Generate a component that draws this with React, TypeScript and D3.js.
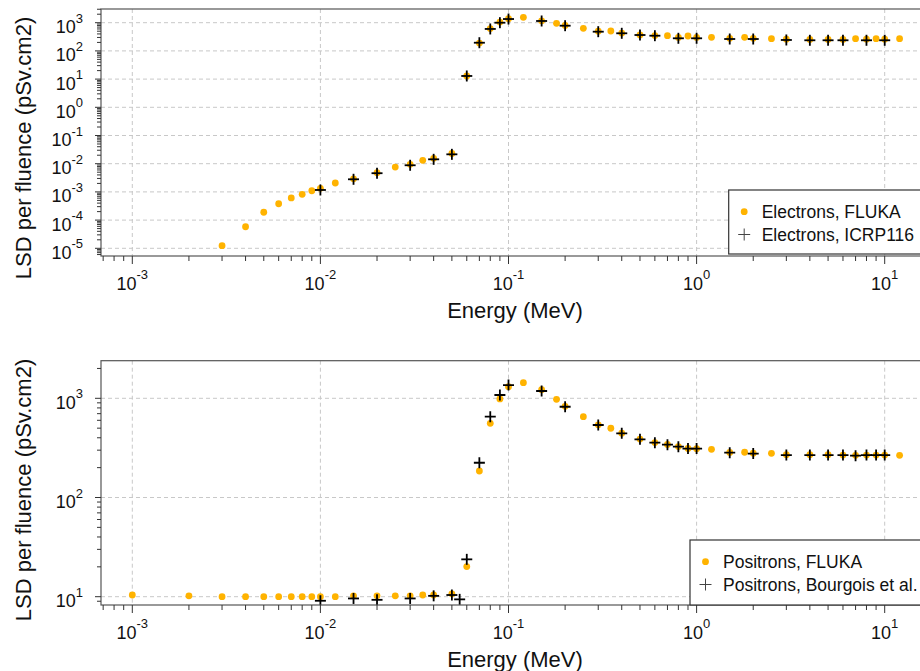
import React from 'react';
import * as d3 from 'd3';

// ---------- DATA ----------
const xTickExps = [-3, -2, -1, 0, 1];
const topYTickExps = [-5, -4, -3, -2, -1, 0, 1, 2, 3];
const bottomYTickExps = [1, 2, 3];

const electronFlukaE = [0.003, 0.004, 0.005, 0.006, 0.007, 0.008, 0.009, 0.01, 0.012, 0.015, 0.02, 0.025, 0.03, 0.035, 0.04, 0.05, 0.06, 0.07, 0.08, 0.09, 0.1, 0.12, 0.15, 0.18, 0.2, 0.25, 0.3, 0.35, 0.4, 0.5, 0.6, 0.7, 0.8, 0.9, 1, 1.2, 1.5, 1.8, 2, 2.5, 3, 4, 5, 6, 7, 8, 9, 10, 12];
const electronFlukaV = [1.24e-5, 5.8e-5, 1.9e-4, 3.8e-4, 6.1e-4, 8.2e-4, 1.1e-3, 1.34e-3, 2.07e-3, 2.9e-3, 4.8e-3, 7.6e-3, 9.5e-3, 0.0132, 0.0155, 0.023, 13, 190, 620, 1050, 1380, 1550, 1170, 950, 800, 630, 500, 508, 430, 370, 350, 346, 300, 337, 300, 303, 280, 303, 280, 271, 260, 255, 255, 255, 271, 260, 271, 260, 271];

const electronIcrpE = [0.01, 0.015, 0.02, 0.03, 0.04, 0.05, 0.06, 0.07, 0.08, 0.09, 0.1, 0.15, 0.2, 0.3, 0.4, 0.5, 0.6, 0.8, 1, 1.5, 2, 3, 4, 5, 6, 8, 10];
const electronIcrpV = [1.17e-3, 2.8e-3, 4.6e-3, 8.8e-3, 0.0143, 0.0215, 12.9, 195, 600, 1000, 1350, 1150, 783, 480, 421, 366, 346, 280, 280, 264, 264, 244, 238, 238, 238, 238, 238];

const positronFlukaE = [0.001, 0.002, 0.003, 0.004, 0.005, 0.006, 0.007, 0.008, 0.009, 0.01, 0.012, 0.015, 0.02, 0.025, 0.03, 0.035, 0.04, 0.05, 0.06, 0.07, 0.08, 0.09, 0.1, 0.12, 0.15, 0.18, 0.2, 0.25, 0.3, 0.35, 0.4, 0.5, 0.6, 0.7, 0.8, 0.9, 1, 1.2, 1.5, 1.8, 2, 2.5, 3, 4, 5, 6, 7, 8, 9, 10, 12];
const positronFlukaV = [10.4, 10.2, 10.0, 10.0, 10.0, 10.0, 10.0, 10.0, 10.0, 10.0, 10.0, 10.2, 10.2, 10.2, 10.2, 10.4, 10.4, 10.7, 20.1, 185, 560, 985, 1310, 1436, 1220, 977, 830, 653, 540, 499, 445, 388, 358, 342, 326, 312, 310, 306, 285, 286, 280, 279, 270, 270, 270, 268, 266, 268, 268, 268, 266];

const positronBourgoisE = [0.01, 0.015, 0.02, 0.03, 0.04, 0.05, 0.055, 0.06, 0.07, 0.08, 0.09, 0.1, 0.15, 0.2, 0.3, 0.4, 0.5, 0.6, 0.7, 0.8, 0.9, 1, 1.5, 2, 3, 4, 5, 6, 7, 8, 9, 10];
const positronBourgoisV = [9.1, 9.6, 9.3, 9.6, 10.2, 10.4, 9.4, 23.8, 224, 653, 1080, 1360, 1185, 822, 538, 444, 386, 357, 341, 325, 311, 311, 283, 277, 268, 268, 268, 268, 264, 268, 268, 268];

const legendTop = ['Electrons, FLUKA', 'Electrons, ICRP116'];
const legendBottom = ['Positrons, FLUKA', 'Positrons, Bourgois et al.'];
const yTitle = 'LSD per fluence (pSv.cm2)';
const xTitle = 'Energy (MeV)';

// ---------- STYLE ----------
const ORANGE = '#FFB300';
const FONT = 'Liberation Sans, Arial, sans-serif';
const TXT = '#111';

type PanelProps = {
  top: number; bottom: number;
  yDomain: [number, number]; yRange: [number, number];
  yExps: number[];
  dotE: number[]; dotV: number[];
  plusE: number[]; plusV: number[];
  legend: string[];
  legendBox: { x: number; y: number; h: number };
  yTitleY: number;
  xTitleY: number;
  id: string;
};

const LEFT = 101;
const RIGHT = 940;

function Panel(p: PanelProps) {
  const x = d3.scaleLog().domain([1e-3, 10]).range([132.3, 884.7]);
  const y = d3.scaleLog().domain(p.yDomain).range(p.yRange);

  const xTicks: { v: number; major: boolean }[] = [];
  for (let d = -4; d <= 1; d++) for (let m = 1; m <= 9; m++) {
    const v = m * Math.pow(10, d);
    const px = x(v);
    if (px >= LEFT && px <= 920) xTicks.push({ v, major: m === 1 });
  }
  const yTicks: { v: number; major: boolean }[] = [];
  for (let d = -7; d <= 4; d++) for (let m = 1; m <= 9; m++) {
    const v = m * Math.pow(10, d);
    const py = y(v);
    if (py >= p.top && py <= p.bottom) yTicks.push({ v, major: m === 1 });
  }

  return (
    <g>
      <defs>
        <clipPath id={'clip' + p.id}>
          <rect x={LEFT} y={p.top} width={RIGHT - LEFT} height={p.bottom - p.top} />
        </clipPath>
      </defs>
      {/* grid */}
      {xTickExps.map(e => (
        <line key={'gx' + e} x1={x(Math.pow(10, e))} x2={x(Math.pow(10, e))} y1={p.top} y2={p.bottom}
          stroke="#c8c8c8" strokeDasharray="4,3" strokeWidth={1} />
      ))}
      {p.yExps.map(e => (
        <line key={'gy' + e} x1={LEFT} x2={RIGHT} y1={y(Math.pow(10, e))} y2={y(Math.pow(10, e))}
          stroke="#c8c8c8" strokeDasharray="4,3" strokeWidth={1} />
      ))}
      {/* data */}
      <g clipPath={`url(#clip${p.id})`}>
        {p.dotE.map((e, i) => (
          <circle key={'d' + i} cx={x(e)} cy={y(p.dotV[i])} r={3.4} fill={ORANGE} />
        ))}
        {p.plusE.map((e, i) => {
          const cx = x(e), cy = y(p.plusV[i]);
          return (
            <g key={'p' + i} stroke="#000" strokeWidth={1.8}>
              <line x1={cx - 5.5} x2={cx + 5.5} y1={cy} y2={cy} />
              <line x1={cx} x2={cx} y1={cy - 5.5} y2={cy + 5.5} />
            </g>
          );
        })}
      </g>
      {/* box */}
      <rect x={LEFT} y={p.top} width={RIGHT - LEFT} height={p.bottom - p.top} fill="none" stroke="#555" strokeWidth={1.2} />
      {/* x ticks */}
      {xTicks.map((t, i) => (
        <line key={'xt' + i} x1={x(t.v)} x2={x(t.v)} y1={p.bottom} y2={p.bottom + (t.major ? 8 : 5)} stroke="#333" strokeWidth={1} />
      ))}
      {xTickExps.map(e => (
        <text key={'xl' + e} x={x(Math.pow(10, e))} y={p.bottom + 33.5} textAnchor="middle" fontFamily={FONT} fontSize={18} fill={TXT}>
          10<tspan dy={-10.5} fontSize={13}>{e}</tspan>
        </text>
      ))}
      {/* y ticks */}
      {yTicks.map((t, i) => (
        <line key={'yt' + i} x1={LEFT - (t.major ? 6 : 4)} x2={LEFT} y1={y(t.v)} y2={y(t.v)} stroke="#333" strokeWidth={1} />
      ))}
      {p.yExps.map(e => (
        <text key={'yl' + e} x={83} y={y(Math.pow(10, e)) + 10.5} textAnchor="end" fontFamily={FONT} fontSize={18} fill={TXT}>
          10<tspan dy={-10.5} fontSize={13}>{e}</tspan>
        </text>
      ))}
      {/* titles */}
      <text x={515} y={p.xTitleY} textAnchor="middle" fontFamily={FONT} fontSize={22} fill={TXT}>{xTitle}</text>
      <text transform={`translate(31,${p.yTitleY}) rotate(-90)`} textAnchor="middle" fontFamily={FONT} fontSize={22} fill={TXT}>{yTitle}</text>
      {/* legend */}
      <rect x={p.legendBox.x} y={p.legendBox.y} width={RIGHT - p.legendBox.x} height={p.legendBox.h} fill="#fff" stroke="#333" strokeWidth={1.2} />
      <circle cx={p.legendBox.x + 15.5} cy={p.legendBox.y + 21.7} r={3.4} fill={ORANGE} />
      <text x={p.legendBox.x + 33} y={p.legendBox.y + 21.7 + 6.2} fontFamily={FONT} fontSize={17.5} fill={TXT}>{p.legend[0]}</text>
      <g stroke="#444" strokeWidth={1}>
        <line x1={p.legendBox.x + 9.5} x2={p.legendBox.x + 21.5} y1={p.legendBox.y + 44.5} y2={p.legendBox.y + 44.5} />
        <line x1={p.legendBox.x + 15.5} x2={p.legendBox.x + 15.5} y1={p.legendBox.y + 38.5} y2={p.legendBox.y + 50.5} />
      </g>
      <text x={p.legendBox.x + 33} y={p.legendBox.y + 44.5 + 6.2} fontFamily={FONT} fontSize={17.5} fill={TXT}>{p.legend[1]}</text>
    </g>
  );
}

export default function App() {
  return (
    <svg width={920} height={671} style={{ position: 'absolute', left: 0, top: 0, background: '#fff' }}>
      <rect x={0} y={0} width={920} height={671} fill="#fff" />
      <Panel id="a" top={9} bottom={256} yDomain={[1e-5, 1e3]} yRange={[248.3, 22.7]} yExps={topYTickExps}
        dotE={electronFlukaE} dotV={electronFlukaV} plusE={electronIcrpE} plusV={electronIcrpV}
        legend={legendTop} legendBox={{ x: 728.7, y: 190, h: 64 }} yTitleY={148} xTitleY={318} />
      <Panel id="b" top={360.7} bottom={605} yDomain={[10, 1000]} yRange={[596.7, 398.3]} yExps={bottomYTickExps}
        dotE={positronFlukaE} dotV={positronFlukaV} plusE={positronBourgoisE} plusV={positronBourgoisV}
        legend={legendBottom} legendBox={{ x: 690, y: 540, h: 65 }} yTitleY={490} xTitleY={667} />
    </svg>
  );
}
